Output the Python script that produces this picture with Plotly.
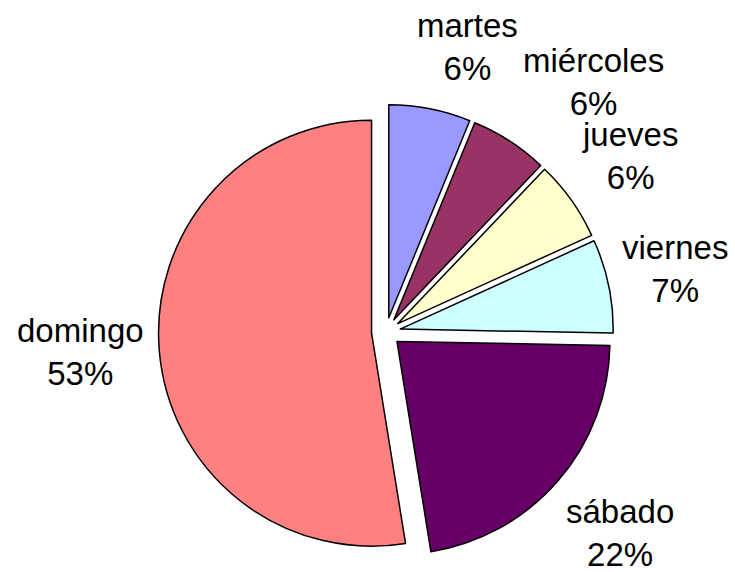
import math
import plotly.graph_objects as go

days = ["martes", "miércoles", "jueves", "viernes", "sábado", "domingo"]
shares = [6.2, 5.9, 6.1, 7.1, 22.15, 52.55]
colors = ["#9999FF", "#993366", "#FFFFCC", "#CCFFFF", "#660066", "#FF8080"]

# label placement (layout/style only): angular nudge (deg) and distance in radii
label_nudge = [4.8, 6.8, -0.3, -0.6, -0.3, 0.9]
label_dist = [1.39, 1.525, 1.41, 1.39, 1.45, 1.435]

W, H = 735, 572
CX, CY, R = 386.0, 332.0, 213.0
pull = 0.068
half = R * (1 + pull)

fig = go.Figure(go.Pie(
    labels=days,
    values=shares,
    sort=False,
    direction="clockwise",
    rotation=0,
    pull=[pull] * len(days),
    marker=dict(colors=colors, line=dict(color="#000000", width=1.5)),
    textinfo="none",
    showlegend=False,
    hoverinfo="label+percent",
    domain=dict(x=[(CX - half) / W, (CX + half) / W],
                y=[1 - (CY + half) / H, 1 - (CY - half) / H]),
))

total = sum(shares)
cum = 0.0
annotations = []
for i, (d, v) in enumerate(zip(days, shares)):
    mid = (cum + v / 2) / total * 360.0
    cum += v
    ang = math.radians(mid + label_nudge[i])
    dist = label_dist[i] * R
    px = CX + dist * math.sin(ang)
    py = CY - dist * math.cos(ang)
    pct = int(math.floor(100 * v / total + 0.5))
    annotations.append(dict(
        x=px / W, y=1 - py / H, xref="paper", yref="paper",
        text=f"{d}<br>{pct}%", showarrow=False,
        xanchor="center", yanchor="middle", align="center",
        font=dict(family="Liberation Sans, Arial, sans-serif", size=33, color="#000000"),
    ))

fig.update_layout(
    width=W, height=H,
    margin=dict(l=0, r=0, t=0, b=0),
    paper_bgcolor="#FFFFFF",
    plot_bgcolor="#FFFFFF",
    annotations=annotations,
)

fig.write_html("out.html", config={"displayModeBar": False},
               post_script="document.body.style.margin='0px';")
